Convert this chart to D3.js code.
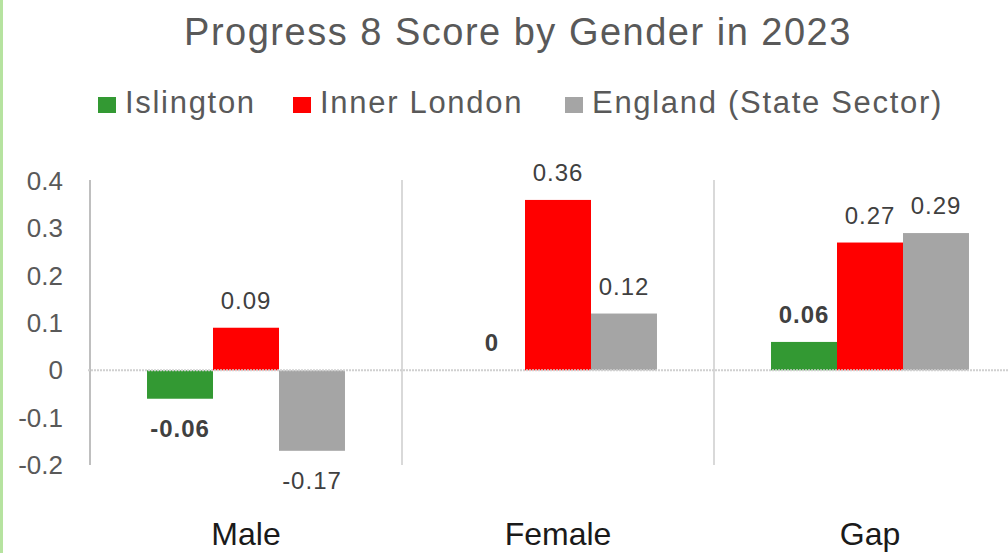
<!DOCTYPE html>
<html lang="en">
  <head>
    <meta charset="utf-8">
    <title>Progress 8 Score by Gender in 2023</title>
    <script src="https://d3js.org/d3.v7.min.js"></script>
    <style>
    body { margin: 0; background: #fff; }
    svg { display: block; font-family: "Liberation Sans", Arial, sans-serif; }
    </style>
  </head>
  <body>
    <svg width="1008" height="553" id="svg"></svg>
    <script>

    // data
    var categories = ["Male", "Female", "Gap"];
    var seriesNames = ["Islington", "Inner London", "England (State Sector)"];
    var islington = [-0.06, 0, 0.06];
    var innerLondon = [0.09, 0.36, 0.27];
    var england = [-0.17, 0.12, 0.29];
    var yTicks = [-0.2, -0.1, 0, 0.1, 0.2, 0.3, 0.4];
    var colors = ["#339933", "#ff0000", "#a5a5a5"];

    var values = [islington, innerLondon, england];

    // d3 formats with a unicode minus, the chart uses a plain hyphen
    function fmt(spec) {
      var f = d3.format(spec);
      return function(v) { return f(v).replace("\u2212", "-"); };
    }

    var svg = d3.select("svg");

    // left green border
    svg.append("rect")
        .attr("x", 0).attr("y", 0)
        .attr("width", 3).attr("height", 553)
        .attr("fill", "#b6e3a0");

    var x = d3.scaleBand().domain(categories).range([90, 1026]).padding(0);
    var xs = d3.scaleBand().domain(seriesNames).range([0, x.bandwidth()])
        .paddingInner(0).paddingOuter(0.864);
    var y = d3.scaleLinear().domain([-0.2, 0.4]).range([465, 181]);

    // title
    svg.append("text")
        .attr("x", 518).attr("y", 45)
        .attr("text-anchor", "middle")
        .attr("fill", "#595959")
        .style("font-size", "38px")
        .style("letter-spacing", "1.5px")
        .text("Progress 8 Score by Gender in 2023");

    // legend
    var legendX = [98, 293, 565];
    var legend = svg.selectAll(".legend")
        .data(seriesNames)
        .enter().append("g")
          .attr("class", "legend")
          .attr("transform", function(d, i) { return "translate(" + legendX[i] + ",0)"; });
    legend.append("rect")
        .attr("x", 0).attr("y", 97)
        .attr("width", 18).attr("height", 16)
        .attr("fill", function(d, i) { return colors[i]; });
    legend.append("text")
        .attr("x", 27).attr("y", 113)
        .attr("fill", "#595959")
        .style("font-size", "31px")
        .style("letter-spacing", "1.7px")
        .text(function(d) { return d; });

    // gridlines: axis + category separators
    svg.append("line")
        .attr("x1", 90).attr("x2", 90)
        .attr("y1", 180).attr("y2", 465)
        .attr("stroke", "#bfbfbf").attr("stroke-width", 2);
    svg.selectAll(".sep")
        .data(categories.slice(1))
        .enter().append("line")
          .attr("class", "sep")
          .attr("x1", function(d) { return x(d); })
          .attr("x2", function(d) { return x(d); })
          .attr("y1", 180).attr("y2", 465)
          .attr("stroke", "#d9d9d9").attr("stroke-width", 2);

    // y axis labels
    var tickFmt = fmt("");
    svg.selectAll(".ytick")
        .data(yTicks)
        .enter().append("text")
          .attr("class", "ytick")
          .attr("x", 63)
          .attr("y", function(d) { return y(d) + 9; })
          .attr("text-anchor", "end")
          .attr("fill", "#595959")
          .style("font-size", "26px")
          .text(function(d) { return tickFmt(+d.toFixed(1)); });

    // bars
    var groups = svg.selectAll(".cat")
        .data(categories)
        .enter().append("g")
          .attr("class", "cat")
          .attr("transform", function(d) { return "translate(" + x(d) + ",0)"; });

    function rows(d, ci) {
      return seriesNames.map(function(s, si) { return {s: s, si: si, v: values[si][ci]}; });
    }

    groups.selectAll("rect")
        .data(rows)
        .enter().append("rect")
          .attr("x", function(d) { return xs(d.s); })
          .attr("y", function(d) { return y(Math.max(0, d.v)); })
          .attr("width", xs.bandwidth())
          .attr("height", function(d) { return Math.abs(y(d.v) - y(0)); })
          .attr("fill", function(d) { return colors[d.si]; });

    // zero line
    svg.append("line")
        .attr("x1", 88).attr("x2", 1008)
        .attr("y1", y(0)).attr("y2", y(0))
        .attr("stroke", "#d0d0d0").attr("stroke-width", 2)
        .attr("stroke-dasharray", "2,1");

    // data labels
    var lblFmt = fmt(".2f");
    groups.selectAll(".lbl")
        .data(rows)
        .enter().append("text")
          .attr("class", "lbl")
          .attr("x", function(d) { return xs(d.s) + xs.bandwidth() / 2; })
          .attr("y", function(d) {
            return d.v < 0 ? y(d.v) + 38 : y(d.v) - 19;
          })
          .attr("text-anchor", "middle")
          .attr("fill", "#404040")
          .style("font-size", "24px")
          .style("letter-spacing", "1px")
          .style("font-weight", function(d) { return d.si === 0 ? "bold" : "normal"; })
          .text(function(d) { return d.v === 0 ? "0" : lblFmt(d.v); });

    // category labels
    svg.selectAll(".xlbl")
        .data(categories)
        .enter().append("text")
          .attr("class", "xlbl")
          .attr("x", function(d) { return x(d) + x.bandwidth() / 2; })
          .attr("y", 545)
          .attr("text-anchor", "middle")
          .attr("fill", "#1a1a1a")
          .style("font-size", "32px")
          .text(function(d) { return d; });

    </script>
  </body>
</html>
